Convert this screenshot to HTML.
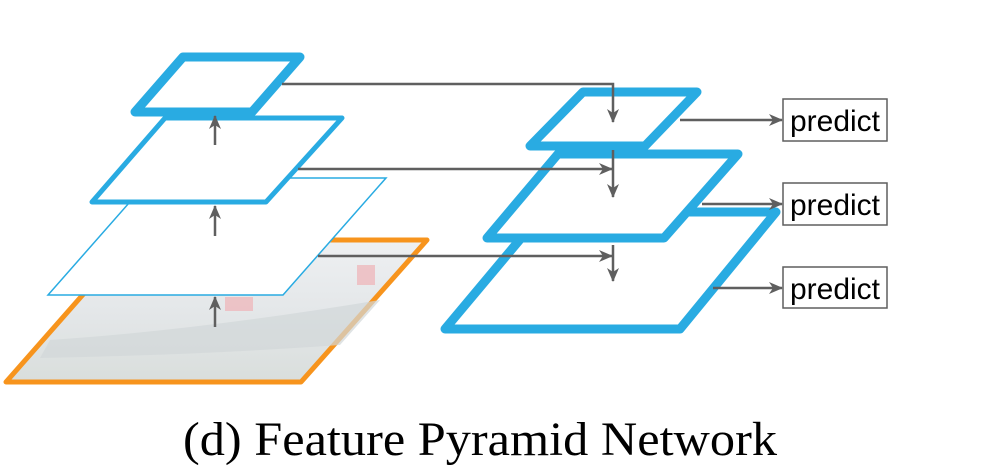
<!DOCTYPE html>
<html><head><meta charset="utf-8"><style>
html,body{margin:0;padding:0;background:#fff;}
svg{display:block;}
</style></head><body>
<svg width="987" height="472" viewBox="0 0 987 472" xmlns="http://www.w3.org/2000/svg">
<defs>
<marker id="ah" markerWidth="14" markerHeight="14" refX="13" refY="6" orient="auto" markerUnits="userSpaceOnUse">
<path d="M0,0 L14,6 L0,12 L4,6 Z" fill="#5f5f5f"/>
</marker>
<linearGradient id="img" x1="0" y1="0" x2="0" y2="1">
<stop offset="0" stop-color="#eef0f2"/>
<stop offset="0.5" stop-color="#e4e7e9"/>
<stop offset="1" stop-color="#d9dedc"/>
</linearGradient>
</defs>
<polygon points="131,240 427,240 301,382 6,382" fill="url(#img)" stroke="#f7941d" stroke-width="5" stroke-linejoin="round"/>
<path d="M50,340 Q200,330 380,300 L340,345 Q200,355 40,358 Z" fill="#d2d7d9" opacity="0.7"/>
<rect x="225" y="297" width="28" height="14" fill="#eeb9bd" opacity="0.8"/>
<rect x="357" y="265" width="18" height="20" fill="#eeb9bd" opacity="0.8"/>
<polygon points="151,178 386,178 283,295 48,295" fill="#fff" stroke="#29abe2" stroke-width="1.5"/>
<polygon points="165,118 342,118 266,202 92,202" fill="#fff" stroke="#29abe2" stroke-width="5" stroke-linejoin="round"/>
<polygon points="183,57 300,57 252,112 135,112" fill="#fff" stroke="#29abe2" stroke-width="9" stroke-linejoin="round"/>
<g stroke="#5f5f5f" stroke-width="2.5" fill="none">
<line x1="215" y1="145" x2="215" y2="116" marker-end="url(#ah)"/>
<line x1="215" y1="236" x2="215" y2="206" marker-end="url(#ah)"/>
<line x1="215" y1="327" x2="215" y2="297" marker-end="url(#ah)"/>
</g>
<polygon points="543,212 776,212 680,329 445,329" fill="#fff" stroke="#29abe2" stroke-width="9" stroke-linejoin="round"/>
<polygon points="558,154 738,154 664,238 487,238" fill="#fff" stroke="#29abe2" stroke-width="9" stroke-linejoin="round"/>
<polygon points="583,92 697,92 645,146 530,146" fill="#fff" stroke="#29abe2" stroke-width="9" stroke-linejoin="round"/>
<g stroke="#5f5f5f" stroke-width="2.5" fill="none">
<polyline points="282,84 613,84 613,122" marker-end="url(#ah)"/>
<line x1="298" y1="169" x2="612" y2="169" marker-end="url(#ah)"/>
<line x1="318" y1="256" x2="612" y2="256" marker-end="url(#ah)"/>
<line x1="613" y1="150" x2="613" y2="197" marker-end="url(#ah)"/>
<line x1="613" y1="245" x2="613" y2="281" marker-end="url(#ah)"/>
<line x1="680" y1="120" x2="782" y2="120" marker-end="url(#ah)"/>
<line x1="702" y1="204" x2="782" y2="204" marker-end="url(#ah)"/>
<line x1="713" y1="288" x2="782" y2="288" marker-end="url(#ah)"/>
</g>
<g fill="#fff" stroke="#5f5f5f" stroke-width="1.5">
<rect x="783" y="99" width="104" height="42"/>
<rect x="783" y="183" width="104" height="42"/>
<rect x="783" y="267" width="104" height="41"/>
</g>
<g font-family="'Liberation Sans', sans-serif" font-size="30" fill="#000" text-anchor="middle">
<text x="835" y="131" textLength="90" lengthAdjust="spacingAndGlyphs">predict</text>
<text x="835" y="215" textLength="90" lengthAdjust="spacingAndGlyphs">predict</text>
<text x="835" y="299" textLength="90" lengthAdjust="spacingAndGlyphs">predict</text>
</g>
<text x="183" y="455" font-family="'Liberation Serif', serif" font-size="48" fill="#000" textLength="594" lengthAdjust="spacingAndGlyphs">(d) Feature Pyramid Network</text>
</svg>
</body></html>
